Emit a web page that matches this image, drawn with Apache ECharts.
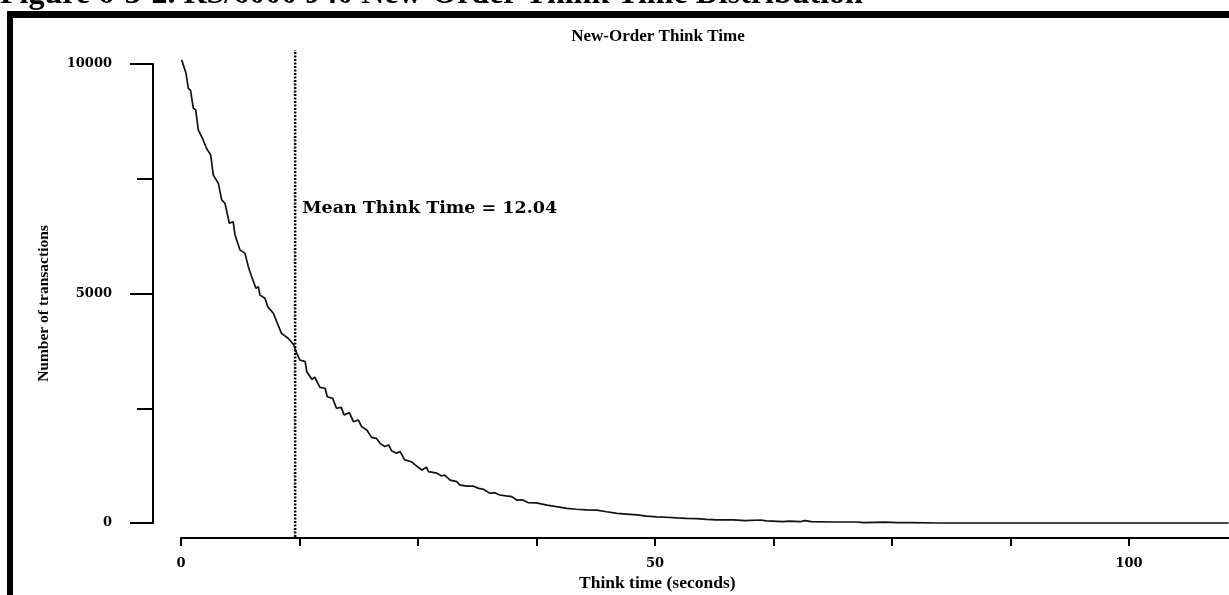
<!DOCTYPE html>
<html>
<head>
<meta charset="utf-8">
<script src="https://cdn.jsdelivr.net/npm/echarts@6/dist/echarts.min.js"></script>
<style>
  html, body { margin: 0; padding: 0; background: #fff; }
  #chart { width: 1229px; height: 595px; }
</style>
</head>
<body>
<div id="chart"></div>
<script>
// think time (seconds) and number of transactions
var thinkTime = [
  0.07, 0.53, 0.77, 1.0, 1.3, 1.55, 1.83, 2.35, 2.7, 3.13,
  3.41, 3.94, 4.29, 4.64, 5.1, 5.5, 5.7, 6.22, 6.75, 7.1,
  7.46, 7.9, 8.15, 8.33, 8.86, 9.14, 9.74, 10.1, 10.6, 11.3,
  11.9, 12.2, 12.55, 13.1, 13.26, 13.8, 14.1, 14.66, 15.2, 15.43,
  16.0, 16.4, 16.9, 17.2, 17.76, 18.2, 18.7, 19.05, 19.6, 20.1,
  20.6, 21.0, 21.5, 21.9, 22.2, 22.75, 23.1, 23.6, 24.3, 24.7,
  25.4, 25.9, 26.1, 27.0, 27.5, 27.8, 28.4, 29.1, 29.4, 30.1,
  30.8, 31.4, 31.9, 32.6, 33.1, 33.6, 34.3, 34.9, 35.4, 36.0,
  36.6, 37.5, 38.6, 39.6, 40.7, 41.7, 42.8, 43.85, 44.9, 46.0,
  47.0, 48.1, 49.1, 50.2, 51.2, 52.3, 53.3, 54.4, 55.45, 56.5,
  58.3, 59.5, 61.1, 61.8, 63.5, 64.2, 65.3, 65.8, 66.5, 68.8,
  71.3, 72.0, 74.2, 75.5, 77.0, 80, 90, 100, 110.5
];
var transactions = [
  10090, 9800, 9470, 9430, 9035, 9000, 8560, 8340, 8160, 8020,
  7580, 7400, 7040, 6965, 6530, 6565, 6275, 5950, 5875, 5585,
  5365, 5115, 5150, 4965, 4895, 4715, 4570, 4385, 4130, 4025,
  3880, 3700, 3550, 3515, 3300, 3130, 3175, 2955, 2935, 2750,
  2715, 2500, 2520, 2355, 2405, 2205, 2245, 2100, 2025, 1865,
  1845, 1735, 1665, 1700, 1575, 1520, 1560, 1375, 1335, 1265,
  1155, 1215, 1120, 1085, 1025, 1045, 935, 900, 830, 805,
  805, 755, 735, 645, 660, 610, 590, 575, 500, 505,
  445, 440, 390, 355, 320, 300, 285, 280, 245, 210,
  195, 175, 150, 135, 125, 110, 100, 95, 80, 70,
  70, 50, 65, 45, 28, 40, 28, 50, 28, 22,
  22, 7, 20, 7, 10, 0, 0, 0, 0
];
var meanThinkTime = 12.04;
var xLabeled = [0, 50, 100];
var yLabeled = [0, 5000, 10000];

var curve = thinkTime.map(function (t, i) { return [t, transactions[i]]; });

var serif = '"Liberation Serif", "Times New Roman", serif';
var wideSerif = '"DejaVu Serif", serif';

var chart = echarts.init(document.getElementById('chart'));
chart.setOption({
  animation: false,
  backgroundColor: '#fff',
  title: {
    text: 'New-Order Think Time',
    left: 653,
    top: 23,
    textAlign: 'center',
    textStyle: { fontFamily: serif, fontWeight: 'bold', fontSize: 17, color: '#000' }
  },
  graphic: [
    {
      type: 'text', left: 0, top: -21, z: 1,
      style: {
        text: 'Figure 6-3-2. RS/6000 J40 New-Order Think Time Distribution',
        font: 'bold 32px "Liberation Serif", serif', fill: '#000'
      }
    },
    { type: 'rect', shape: { x: 7, y: 11, width: 1222, height: 7 }, style: { fill: '#000' }, z: 10 },
    { type: 'rect', shape: { x: 7, y: 11, width: 6, height: 584 }, style: { fill: '#000' }, z: 10 }
  ],
  grid: [
    { left: 181, right: -18.5, top: 64, bottom: 72, outerBoundsMode: 'none' },
    { left: 181, right: -18.5, top: 50, bottom: 58, outerBoundsMode: 'none' }
  ],
  xAxis: [
    {
      type: 'value', gridIndex: 0, min: 0, max: 112.5, interval: 12.5,
      offset: 15,
      name: 'Think time (seconds)',
      nameLocation: 'middle',
      nameGap: 30,
      nameTextStyle: { fontFamily: serif, fontWeight: 'bold', fontSize: 17.5, color: '#000', padding: [0, 114, 0, 0] },
      axisLine: { onZero: false, lineStyle: { color: '#000', width: 2 } },
      axisTick: { length: 8, lineStyle: { color: '#000', width: 2 } },
      axisLabel: {
        margin: 19, color: '#000', fontFamily: wideSerif, fontWeight: 'bold', fontSize: 13,
        formatter: function (v) { return xLabeled.indexOf(v) >= 0 ? String(v) : ''; }
      },
      splitLine: { show: false }
    },
    { type: 'value', gridIndex: 1, min: 0, max: 112.5, show: false }
  ],
  yAxis: [
    {
      type: 'value', gridIndex: 0, position: 'left', min: 0, max: 10000, interval: 5000,
      offset: 28,
      name: 'Number of transactions',
      nameLocation: 'middle',
      nameGap: 101,
      nameTextStyle: { fontFamily: serif, fontWeight: 'bold', fontSize: 15.5, color: '#000', padding: [0, 20, 0, 0] },
      axisLine: { show: true, onZero: false, lineStyle: { color: '#000', width: 2 } },
      axisTick: { length: 23, lineStyle: { color: '#000', width: 2 } },
      axisLabel: {
        margin: 41, color: '#000', fontFamily: wideSerif, fontWeight: 'bold', fontSize: 13,
        formatter: function (v) { return yLabeled.indexOf(v) >= 0 ? String(v) : ''; }
      },
      splitLine: { show: false }
    },
    {
      type: 'value', gridIndex: 0, position: 'left', min: 0, max: 10000, interval: 2500,
      offset: 28,
      axisLine: { show: false, onZero: false },
      axisTick: { show: true, length: 16, lineStyle: { color: '#000', width: 2 } },
      axisLabel: { show: false },
      splitLine: { show: false }
    },
    { type: 'value', gridIndex: 1, min: 0, max: 1, show: false }
  ],
  series: [
    {
      type: 'line',
      xAxisIndex: 0,
      yAxisIndex: 0,
      data: curve,
      showSymbol: false,
      clip: false,
      lineStyle: { color: '#111', width: 1.7 },
      markPoint: {
        symbolSize: 0,
        label: {
          show: true, position: 'right', distance: 7, color: '#000',
          fontFamily: wideSerif, fontWeight: 'bold', fontSize: 17.5,
          formatter: function (p) { return 'Mean Think Time = ' + p.value; }
        },
        data: [{ coord: [meanThinkTime, 6850], value: meanThinkTime.toFixed(2) }]
      }
    },
    {
      type: 'line',
      xAxisIndex: 1,
      yAxisIndex: 2,
      data: [[meanThinkTime, 0], [meanThinkTime, 1]],
      showSymbol: false,
      lineStyle: { color: '#000', width: 2.5, type: [2, 1.5] }
    }
  ]
});
</script>
</body>
</html>
